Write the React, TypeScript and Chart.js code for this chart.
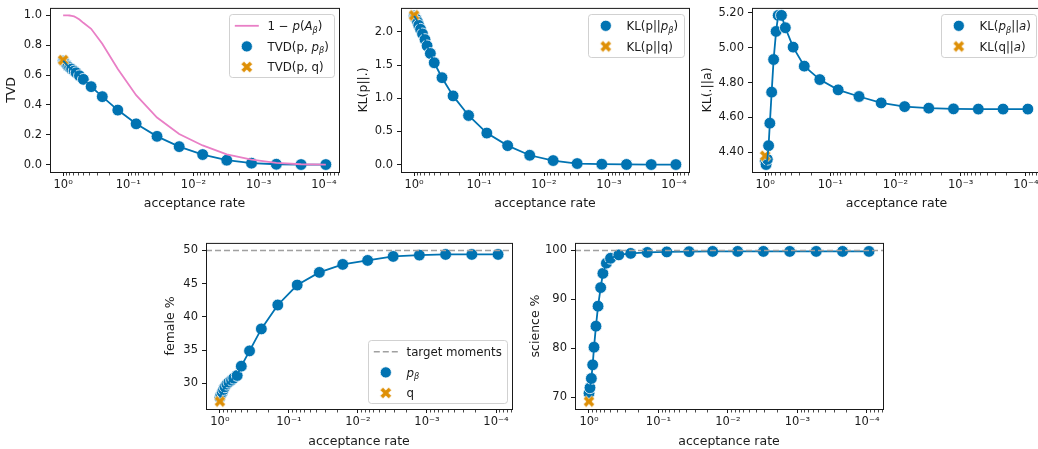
import React, { useEffect, useRef } from 'react';
import { Chart, registerables } from 'chart.js';

Chart.register(...registerables);

const FONT_FAMILY = '"DejaVu Sans", "Liberation Sans", sans-serif';
const FS = 11.5; // tick labels
const LFS = 11.8; // legend
const TFS = 12.5; // axis titles
const BLUE = '#0173B2';
const ORANGE = '#DE8F05';
const PINK = '#E97FC6';
const GRAY = '#A0A0A0';
const INK = '#1a1a1a';

// ---------------- data ----------------
const acceptanceRate = [
  1, 0.968, 0.925, 0.885, 0.847, 0.794, 0.741, 0.679, 0.631, 0.562, 0.49, 0.372,
  0.251, 0.145, 0.0759, 0.0363, 0.0166, 0.00724, 0.00309, 0.00129, 0.000537, 0.000224, 0.0000933,
];
const qAcceptanceRate = 1;

const oneMinusPAbeta = [
  1.0, 1.0, 1.0, 1.0, 1.0, 0.999, 0.997, 0.993, 0.986, 0.972, 0.95, 0.91,
  0.81, 0.64, 0.465, 0.315, 0.205, 0.128, 0.068, 0.033, 0.011, 0.002, 0.0,
];
const tvdPBeta = [
  0.695, 0.69, 0.68, 0.67, 0.66, 0.65, 0.64, 0.627, 0.615, 0.595, 0.571, 0.522,
  0.455, 0.365, 0.273, 0.189, 0.12, 0.067, 0.029, 0.009, 0.002, 0.0, 0.0,
];
const tvdQ = 0.7;

const klPPBeta = [
  2.24, 2.22, 2.19, 2.15, 2.1, 2.04, 1.97, 1.885, 1.79, 1.675, 1.535, 1.31,
  1.035, 0.74, 0.475, 0.285, 0.14, 0.06, 0.015, 0.005, 0.001, 0.0, 0.0,
];
const klPQ = 2.25;

const klPBetaA = [
  4.35, 4.33, 4.36, 4.438, 4.567, 4.745, 4.932, 5.093, 5.185, 5.185, 5.114, 5.003,
  4.894, 4.817, 4.758, 4.72, 4.683, 4.662, 4.653, 4.649, 4.648, 4.648, 4.648,
];
const klQA = 4.38;

const femalePBeta = [
  27.9, 28.3, 28.7, 29.1, 29.5, 29.9, 30.2, 30.5, 30.8, 31.2, 32.6, 34.9,
  38.2, 41.8, 44.8, 46.7, 47.9, 48.5, 49.1, 49.3, 49.4, 49.4, 49.4,
];
const femaleQ = 27.3;
const femaleTarget = 50;

const sciencePBeta = [
  70.8, 71.9, 73.8, 76.6, 80.2, 84.5, 88.6, 92.4, 95.3, 97.4, 98.4, 99.1,
  99.4, 99.6, 99.7, 99.75, 99.8, 99.8, 99.8, 99.8, 99.8, 99.8, 99.8,
];
const scienceQ = 69.1;
const scienceTarget = 100;

const xTickValues = [1, 0.1, 0.01, 0.001, 0.0001];
const xTickLabels = ['10⁰', '10⁻¹', '10⁻²', '10⁻³', '10⁻⁴'];
const tvdTicks = [0, 0.2, 0.4, 0.6, 0.8, 1.0];
const klPTicks = [0, 0.5, 1.0, 1.5, 2.0];
const klATicks = [4.4, 4.6, 4.8, 5.0, 5.2];
const femaleTicks = [30, 35, 40, 45, 50];
const scienceTicks = [70, 80, 90, 100];

// ---------------- helpers ----------------
const logs = acceptanceRate.concat([qAcceptanceRate]).map((v) => Math.log10(v));
const lMin = Math.min(...logs);
const lMax = Math.max(...logs);
const lPad = 0.05 * (lMax - lMin);
const X_MIN = Math.pow(10, lMin - lPad);
const X_MAX = Math.pow(10, lMax + lPad);

function yLimits(vals: number[]): [number, number] {
  const mn = Math.min(...vals);
  const mx = Math.max(...vals);
  const p = 0.05 * (mx - mn);
  return [mn - p, mx + p];
}

let xImgCache: HTMLCanvasElement | null = null;
function xImg(): HTMLCanvasElement {
  if (xImgCache) return xImgCache;
  const c = document.createElement('canvas');
  c.width = 16;
  c.height = 16;
  const g = c.getContext('2d')!;
  g.translate(8, 8);
  const s = 2.85;
  const v = [[-1, -2], [0, -1], [1, -2], [2, -1], [1, 0], [2, 1], [1, 2], [0, 1], [-1, 2], [-2, 1], [-1, 0], [-2, -1]];
  g.beginPath();
  v.forEach(([a, b], i) => (i ? g.lineTo(a * s, b * s) : g.moveTo(a * s, b * s)));
  g.closePath();
  g.fillStyle = ORANGE;
  g.fill();
  g.strokeStyle = '#ffffff';
  g.lineWidth = 0.7;
  g.stroke();
  xImgCache = c;
  return c;
}

const pts = (ys: number[]) => acceptanceRate.map((x, i) => ({ x, y: ys[i] }));

function circleDs(ys: number[]) {
  return {
    data: pts(ys), showLine: false, pointRadius: 5.9, pointHoverRadius: 5.9,
    pointBackgroundColor: BLUE, pointBorderColor: '#ffffff', pointBorderWidth: 0.8, order: 5,
  };
}
function blueLineDs(ys: number[]) {
  return { data: pts(ys), showLine: true, borderColor: BLUE, borderWidth: 1.8, pointRadius: 0, order: 3 };
}
function qDs(y: number) {
  return { data: [{ x: qAcceptanceRate, y }], showLine: false, pointStyle: xImg(), pointRadius: 6, order: 4 };
}
function targetDs(y: number) {
  return {
    data: [{ x: X_MAX, y }, { x: X_MIN, y }], showLine: true, borderColor: GRAY, borderWidth: 1.5,
    borderDash: [6, 3], pointRadius: 0, order: 1,
  };
}

type Seg = { t: string; i?: boolean; s?: boolean };
type LegendItem = { kind: 'line' | 'dash' | 'circle' | 'x'; segs: Seg[] };

function segFont(s: Seg) {
  return `${s.i ? 'italic ' : ''}${s.s ? LFS * 0.7 : LFS}px ${FONT_FAMILY}`;
}
function segsWidth(ctx: CanvasRenderingContext2D, segs: Seg[]) {
  let w = 0;
  for (const s of segs) {
    ctx.font = segFont(s);
    w += ctx.measureText(s.t).width;
  }
  return w;
}
function drawSegs(ctx: CanvasRenderingContext2D, segs: Seg[], x: number, y: number) {
  ctx.textBaseline = 'alphabetic';
  ctx.textAlign = 'left';
  ctx.fillStyle = INK;
  for (const s of segs) {
    ctx.font = segFont(s);
    ctx.fillText(s.t, x, s.s ? y + 2.8 : y);
    x += ctx.measureText(s.t).width;
  }
}
function roundRect(ctx: CanvasRenderingContext2D, x: number, y: number, w: number, h: number, r: number) {
  ctx.beginPath();
  ctx.moveTo(x + r, y);
  ctx.arcTo(x + w, y, x + w, y + h, r);
  ctx.arcTo(x + w, y + h, x, y + h, r);
  ctx.arcTo(x, y + h, x, y, r);
  ctx.arcTo(x, y, x + w, y, r);
  ctx.closePath();
}

function drawLegend(ctx: CanvasRenderingContext2D, a: any, items: LegendItem[], corner: string) {
  const textW = Math.max(...items.map((it) => segsWidth(ctx, it.segs)));
  const w = Math.round(38 + textW + 6);
  const h = Math.round(11.6 + (items.length - 1) * 20.6 + 10.3);
  const right = Math.round(a.right - 5);
  const left = right - w + 0.5;
  const top = (corner === 'ur' ? Math.round(a.top + 6.3) : Math.round(a.bottom - 6.3 - h)) + 0.5;
  roundRect(ctx, left, top, w, h, 3);
  ctx.fillStyle = 'rgba(255,255,255,0.8)';
  ctx.fill();
  ctx.strokeStyle = 'rgba(204,204,204,0.9)';
  ctx.lineWidth = 1;
  ctx.stroke();
  items.forEach((it, i) => {
    const cy = top + 11.3 + i * 20.6;
    const cx = left + 17.3;
    if (it.kind === 'line' || it.kind === 'dash') {
      ctx.save();
      ctx.strokeStyle = it.kind === 'line' ? PINK : GRAY;
      ctx.lineWidth = it.kind === 'line' ? 1.8 : 1.5;
      ctx.setLineDash(it.kind === 'dash' ? [6, 3] : []);
      ctx.beginPath();
      ctx.moveTo(cx - 12, cy);
      ctx.lineTo(cx + 12, cy);
      ctx.stroke();
      ctx.restore();
    } else if (it.kind === 'circle') {
      ctx.beginPath();
      ctx.arc(cx, cy, 5.6, 0, Math.PI * 2);
      ctx.fillStyle = BLUE;
      ctx.fill();
      ctx.strokeStyle = '#ffffff';
      ctx.lineWidth = 0.8;
      ctx.stroke();
    } else {
      const img = xImg();
      ctx.drawImage(img, cx - img.width / 2, cy - img.height / 2);
    }
    drawSegs(ctx, it.segs, left + 38, cy + 4.2);
  });
}

const decoPlugin = {
  id: 'deco',
  afterDraw(chart: any, _args: any, opts: any) {
    const { ctx, chartArea: a } = chart;
    const xs = chart.scales.x;
    ctx.save();
    ctx.strokeStyle = INK;
    ctx.lineWidth = 0.8;
    for (let k = -6; k <= 1; k++) {
      for (let m = 2; m <= 9; m++) {
        const v = m * Math.pow(10, k);
        if (v < xs.min || v > xs.max) continue;
        const px = Math.round(xs.getPixelForValue(v)) + 0.5;
        ctx.beginPath();
        ctx.moveTo(px, a.bottom + 1);
        ctx.lineTo(px, a.bottom + 3.5);
        ctx.stroke();
      }
    }
    ctx.lineWidth = 1;
    ctx.strokeRect(a.left + 0.5, a.top + 0.5, a.right - a.left, a.bottom - a.top);
    if (opts && opts.items) drawLegend(ctx, a, opts.items, opts.corner);
    ctx.restore();
  },
};

type Box = { L: number; T: number; R: number; B: number };
interface PanelSpec {
  box: Box;
  yTitleX: number;
  xTitleY: number;
  yTitle: string;
  yTicks: number[];
  yDec: number;
  yLim: [number, number];
  datasets: any[];
  legend?: { items: LegendItem[]; corner: 'ur' | 'lr' };
}

function geometry(p: PanelSpec) {
  const half = (TFS * 1.2) / 2;
  const cl = Math.round(p.yTitleX - half);
  const ct = p.box.T - 8;
  const H = p.xTitleY + half - p.box.B;
  const ch = Math.ceil(p.box.B - ct + H + 2);
  const cw = p.box.R + 4 - cl;
  return { cl, ct, cw, ch, H, W: p.box.L - cl, padBottom: ch - (p.box.B - ct) - H };
}

function buildConfig(p: PanelSpec): any {
  const g = geometry(p);
  const font = { family: FONT_FAMILY, size: FS };
  const tfont = { family: FONT_FAMILY, size: TFS };
  return {
    type: 'scatter',
    data: { datasets: p.datasets },
    options: {
      responsive: false,
      animation: false,
      devicePixelRatio: 1,
      events: [],
      layout: { padding: { left: 0, top: p.box.T - g.ct, right: 4, bottom: g.padBottom } },
      plugins: {
        legend: { display: false },
        tooltip: { enabled: false },
        deco: p.legend ? { items: p.legend.items, corner: p.legend.corner } : {},
      },
      scales: {
        x: {
          type: 'logarithmic',
          reverse: true,
          min: X_MIN,
          max: X_MAX,
          afterBuildTicks: (s: any) => {
            s.ticks = xTickValues.map((v) => ({ value: v }));
          },
          afterFit: (s: any) => {
            s.height = g.H;
          },
          ticks: {
            autoSkip: false, maxRotation: 0, padding: 2, color: INK, font,
            callback: (_v: any, i: number) => xTickLabels[i],
          },
          grid: { display: true, drawOnChartArea: false, drawTicks: true, tickLength: 4, tickColor: INK, tickWidth: 1 },
          border: { display: false },
          title: { display: true, text: 'acceptance rate', padding: 0, color: INK, font: tfont },
        },
        y: {
          type: 'linear',
          min: p.yLim[0],
          max: p.yLim[1],
          afterBuildTicks: (s: any) => {
            s.ticks = p.yTicks.map((v) => ({ value: v }));
          },
          afterFit: (s: any) => {
            s.width = g.W;
          },
          ticks: {
            autoSkip: false, padding: 4, color: INK, font,
            callback: (v: any) => Number(v).toFixed(p.yDec),
          },
          grid: { display: true, drawOnChartArea: false, drawTicks: true, tickLength: 4, tickColor: INK, tickWidth: 1 },
          border: { display: false },
          title: { display: true, text: p.yTitle, padding: 0, color: INK, font: tfont },
        },
      },
    },
    plugins: [decoPlugin],
  };
}

function Panel({ spec }: { spec: PanelSpec }) {
  const ref = useRef<HTMLCanvasElement>(null);
  const g = geometry(spec);
  useEffect(() => {
    const chart = new Chart(ref.current!, buildConfig(spec));
    return () => chart.destroy();
  }, []);
  return (
    <canvas
      ref={ref}
      width={g.cw}
      height={g.ch}
      style={{ position: 'absolute', left: g.cl, top: g.ct, width: g.cw, height: g.ch }}
    />
  );
}

function makePanels(): PanelSpec[] {
  return [
    {
      box: { L: 50, T: 5, R: 342, B: 172 },
      yTitleX: 11.7, xTitleY: 203.3, yTitle: 'TVD', yTicks: tvdTicks, yDec: 1,
      yLim: yLimits(tvdPBeta.concat(oneMinusPAbeta, [tvdQ])),
      datasets: [
        { data: pts(oneMinusPAbeta), showLine: true, borderColor: PINK, borderWidth: 1.8, pointRadius: 0, order: 2 },
        blueLineDs(tvdPBeta), qDs(tvdQ), circleDs(tvdPBeta),
      ],
      legend: {
        corner: 'ur',
        items: [
          { kind: 'line', segs: [{ t: '1 − ' }, { t: 'p', i: true }, { t: '(' }, { t: 'A', i: true }, { t: 'β', i: true, s: true }, { t: ')' }] },
          { kind: 'circle', segs: [{ t: 'TVD(p, ' }, { t: 'p', i: true }, { t: 'β', i: true, s: true }, { t: ')' }] },
          { kind: 'x', segs: [{ t: 'TVD(p, q)' }] },
        ],
      },
    },
    {
      box: { L: 401, T: 5, R: 692, B: 172 },
      yTitleX: 363.3, xTitleY: 203.3, yTitle: 'KL(p||.)', yTicks: klPTicks, yDec: 1,
      yLim: yLimits(klPPBeta.concat([klPQ])),
      datasets: [blueLineDs(klPPBeta), qDs(klPQ), circleDs(klPPBeta)],
      legend: {
        corner: 'ur',
        items: [
          { kind: 'circle', segs: [{ t: 'KL(p||' }, { t: 'p', i: true }, { t: 'β', i: true, s: true }, { t: ')' }] },
          { kind: 'x', segs: [{ t: 'KL(p||q)' }] },
        ],
      },
    },
    {
      box: { L: 752, T: 5, R: 1044, B: 172 },
      yTitleX: 707.3, xTitleY: 203.3, yTitle: 'KL(.||a)', yTicks: klATicks, yDec: 2,
      yLim: yLimits(klPBetaA.concat([klQA])),
      datasets: [blueLineDs(klPBetaA), qDs(klQA), circleDs(klPBetaA)],
      legend: {
        corner: 'ur',
        items: [
          { kind: 'circle', segs: [{ t: 'KL(' }, { t: 'p', i: true }, { t: 'β', i: true, s: true }, { t: '||' }, { t: 'a', i: true }, { t: ')' }] },
          { kind: 'x', segs: [{ t: 'KL(q||' }, { t: 'a', i: true }, { t: ')' }] },
        ],
      },
    },
    {
      box: { L: 206, T: 240, R: 515, B: 409 },
      yTitleX: 170, xTitleY: 441.3, yTitle: 'female %', yTicks: femaleTicks, yDec: 0,
      yLim: yLimits(femalePBeta.concat([femaleQ, femaleTarget])),
      datasets: [targetDs(femaleTarget), blueLineDs(femalePBeta), qDs(femaleQ), circleDs(femalePBeta)],
      legend: {
        corner: 'lr',
        items: [
          { kind: 'dash', segs: [{ t: 'target moments' }] },
          { kind: 'circle', segs: [{ t: 'p', i: true }, { t: 'β', i: true, s: true }] },
          { kind: 'x', segs: [{ t: 'q' }] },
        ],
      },
    },
    {
      box: { L: 575, T: 240, R: 886, B: 409 },
      yTitleX: 535, xTitleY: 441.3, yTitle: 'science %', yTicks: scienceTicks, yDec: 0,
      yLim: yLimits(sciencePBeta.concat([scienceQ, scienceTarget])),
      datasets: [targetDs(scienceTarget), blueLineDs(sciencePBeta), qDs(scienceQ), circleDs(sciencePBeta)],
    },
  ];
}

export default function App() {
  const panels = makePanels();
  return (
    <div
      style={{
        position: 'fixed', left: 0, top: 0, width: 1038, height: 449,
        overflow: 'hidden', background: '#ffffff',
      }}
    >
      {panels.map((p, i) => (
        <Panel key={i} spec={p} />
      ))}
    </div>
  );
}
